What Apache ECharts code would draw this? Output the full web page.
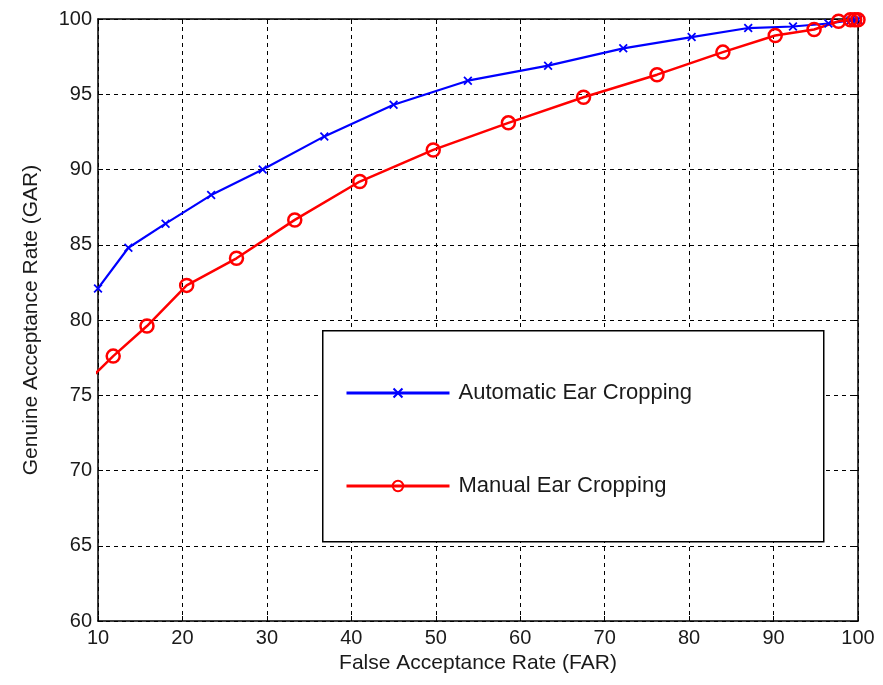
<!DOCTYPE html>
<html>
<head>
<meta charset="utf-8">
<script src="https://cdn.jsdelivr.net/npm/echarts@6/dist/echarts.min.js"></script>
<style>html,body{margin:0;padding:0;background:#fff}#c{width:883px;height:685px}</style>
</head>
<body>
<div id="c"></div>
<script>
const xTicks = [10, 20, 30, 40, 50, 60, 70, 80, 90, 100];
const yTicks = [60, 65, 70, 75, 80, 85, 90, 95, 100];
const autoName = 'Automatic Ear Cropping';
const manualName = 'Manual Ear Cropping';
const autoFAR = [10, 13.6, 18.0, 23.4, 29.5, 36.8, 45.0, 53.8, 63.3, 72.2, 80.3, 87.0, 92.3, 96.5, 99.1, 99.6, 100];
const autoGAR = [82.1, 84.8, 86.4, 88.3, 90.0, 92.2, 94.3, 95.9, 96.9, 98.05, 98.8, 99.4, 99.5, 99.7, 99.9, 99.9, 99.95];
const manualFAR = [8, 11.8, 15.8, 20.5, 26.4, 33.3, 41.0, 49.7, 58.6, 67.5, 76.2, 84.0, 90.2, 94.8, 97.7, 99.1, 99.6, 100];
const manualGAR = [75.5, 77.6, 79.6, 82.3, 84.1, 86.65, 89.2, 91.3, 93.1, 94.8, 96.3, 97.8, 98.9, 99.3, 99.85, 99.95, 99.95, 99.95];

const autoData = autoFAR.map((x, i) => [x, autoGAR[i]]);
const manualData = manualFAR.map((x, i) => [x, manualGAR[i]]);

const FONT = 'Liberation Sans, Arial, sans-serif';
const TXT = '#1a1a1a';
const xMarker = 'path://M0,1.4L1.4,0L5,3.6L8.6,0L10,1.4L6.4,5L10,8.6L8.6,10L5,6.4L1.4,10L0,8.6L3.6,5Z';

const chart = echarts.init(document.getElementById('c'), null, {renderer: 'canvas'});
const gridBox = {left: 98, right: 25, top: 19, bottom: 64};
const frameAxisX = {
  type: 'value', min: 10, max: 100, interval: 10,
  axisLine: {show: true, onZero: false, lineStyle: {color: '#000', width: 1.5}},
  axisTick: {show: true, inside: true, length: 5, lineStyle: {color: '#000', width: 1}},
};
const frameAxisY = {
  type: 'value', min: 60, max: 100, interval: 5,
  axisLine: {show: true, onZero: false, lineStyle: {color: '#000', width: 1.5}},
  axisTick: {show: true, inside: true, length: 5, lineStyle: {color: '#000', width: 1}},
};
chart.setOption({
  backgroundColor: '#fff',
  animation: false,
  grid: Object.assign({containLabel: false}, gridBox),
  xAxis: [
    Object.assign({}, frameAxisX, {
      position: 'bottom',
      name: 'False Acceptance Rate (FAR)', nameLocation: 'middle', nameGap: 32,
      nameTextStyle: {fontFamily: FONT, fontSize: 21, color: TXT},
      axisLabel: {fontFamily: FONT, fontSize: 20, color: TXT, margin: 7,
        formatter: v => xTicks.includes(v) ? String(v) : ''},
      splitLine: {show: true, lineStyle: {color: '#000', type: [4, 4], width: 1}}
    }),
    Object.assign({}, frameAxisX, {position: 'top', axisLabel: {show: false}, splitLine: {show: false}})
  ],
  yAxis: [
    Object.assign({}, frameAxisY, {
      position: 'left',
      name: 'Genuine Acceptance Rate (GAR)', nameLocation: 'middle', nameGap: 56,
      nameTextStyle: {fontFamily: FONT, fontSize: 21, color: TXT},
      axisLabel: {fontFamily: FONT, fontSize: 20, color: TXT, margin: 6,
        formatter: v => yTicks.includes(v) ? String(v) : ''},
      splitLine: {show: true, lineStyle: {color: '#000', type: [4, 4], width: 1}}
    }),
    Object.assign({}, frameAxisY, {position: 'right', axisLabel: {show: false}, splitLine: {show: false}})
  ],
  graphic: [{
    type: 'rect', left: 322, top: 330, z: 5,
    shape: {width: 501, height: 211},
    style: {fill: '#fff', stroke: '#000', lineWidth: 1.5}
  }],
  legend: {
    orient: 'vertical', left: 340, top: 377, z: 10,
    itemWidth: 103, itemHeight: 13, itemGap: 71,
    lineStyle: {width: 3},
    textStyle: {fontFamily: FONT, fontSize: 22, color: TXT, lineHeight: 22, padding: [0, 0, 0, 4]},
    data: [autoName, manualName]
  },
  series: [
    {
      name: autoName, type: 'line', data: autoData, clip: true,
      symbol: xMarker, symbolSize: [9, 9], showAllSymbol: true,
      lineStyle: {color: '#0000ff', width: 2.2},
      itemStyle: {color: '#0000ff'}
    },
    {
      name: manualName, type: 'line', data: manualData, clip: true,
      symbol: 'circle', symbolSize: 13, showAllSymbol: true,
      lineStyle: {color: '#ff0000', width: 2.5},
      itemStyle: {color: 'rgba(255,0,0,0)', borderColor: '#ff0000', borderWidth: 2.5}
    }
  ]
});
</script>
</body>
</html>
